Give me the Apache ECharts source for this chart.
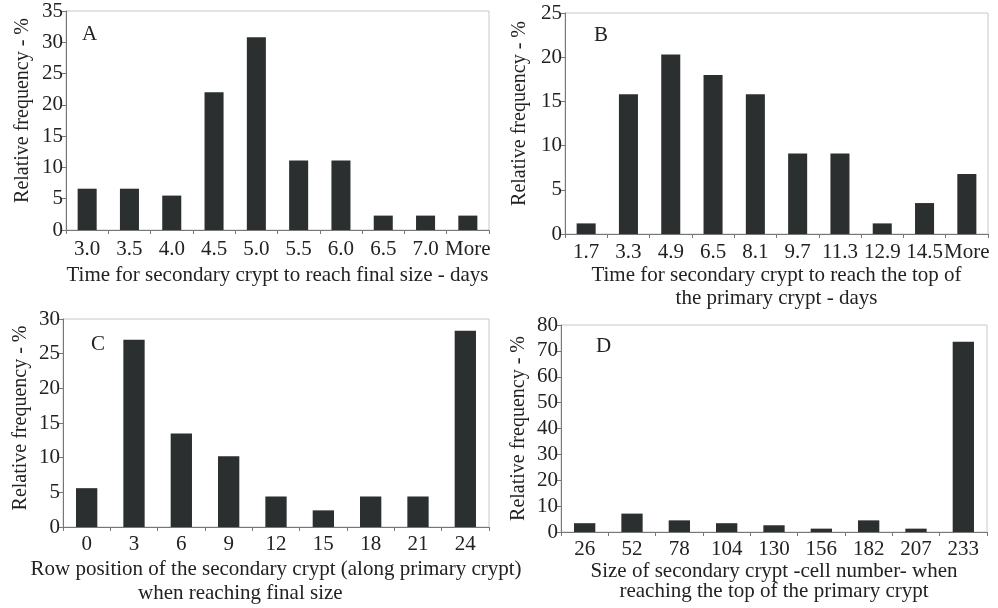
<!DOCTYPE html>
<html>
<head>
<meta charset="utf-8">
<script src="https://cdn.jsdelivr.net/npm/echarts@6/dist/echarts.min.js"></script>
<style>
html,body{margin:0;padding:0;background:#fff;}
#chart{width:998px;height:608px;}
</style>
</head>
<body>
<div id="chart"></div>
<script>
// Panel A
const catsA = ['3.0','3.5','4.0','4.5','5.0','5.5','6.0','6.5','7.0','More'];
const valsA = [6.6, 6.6, 5.5, 22.0, 30.8, 11.1, 11.1, 2.3, 2.3, 2.3];
// Panel B
const catsB = ['1.7','3.3','4.9','6.5','8.1','9.7','11.3','12.9','14.5','More'];
const valsB = [1.2, 15.8, 20.3, 18.0, 15.8, 9.1, 9.1, 1.2, 3.5, 6.8];
// Panel C
const catsC = ['0','3','6','9','12','15','18','21','24'];
const valsC = [5.6, 27.0, 13.5, 10.2, 4.4, 2.4, 4.4, 4.4, 28.3];
// Panel D
const catsD = ['26','52','78','104','130','156','182','207','233'];
const valsD = [3.4, 7.1, 4.5, 3.4, 2.6, 1.3, 4.5, 1.3, 73.5];

const yTitle = 'Relative frequency - %';
const xTitleA = 'Time for secondary crypt to reach final size - days';
const xTitleB = 'Time for secondary crypt to reach the top of\nthe primary crypt - days';
const xTitleC1 = 'Row position of the secondary crypt (along primary crypt)';
const xTitleC2 = 'when reaching final size';
const xTitleD = 'Size of secondary crypt -cell number- when\nreaching the top of the primary crypt';
const panelLabels = ['A','B','C','D'];

const FONT = 'Liberation Serif';
const TXT = '#222';
const BAR = '#2b2f30';
const AX = '#777';

const grids = [
  {left:66, right:509, top:11, bottom:378},
  {left:565, right:10, top:13, bottom:374},
  {left:63, right:509, top:319, bottom:81},
  {left:561, right:11, top:325, bottom:76}
].map(g => Object.assign({show:true, borderColor:'#c8c8c8', borderWidth:1, backgroundColor:'transparent'}, g));

function xAxis(i, cats, name, gap, lh, lm){
  return {
    type:'category', gridIndex:i, data:cats, boundaryGap:true,
    name:name, nameLocation:'middle', nameGap:gap,
    nameTextStyle:{fontFamily:FONT, fontSize:21, color:TXT, lineHeight:lh},
    axisLine:{lineStyle:{color:AX, width:1}},
    axisTick:{show:true, length:4, lineStyle:{color:AX}},
    axisLabel:{fontFamily:FONT, fontSize:21, color:TXT, margin:lm, interval:0}
  };
}
function yAxis(i, max, interval, gap, shiftUp){
  return {
    type:'value', gridIndex:i, min:0, max:max, interval:interval,
    name:yTitle, nameLocation:'middle', nameGap:gap, nameRotate:90,
    nameTextStyle:{fontFamily:FONT, fontSize:20, color:TXT, padding:[0,0,0,shiftUp*2]},
    axisLine:{show:true, lineStyle:{color:AX, width:1}},
    axisTick:{show:true, length:4, lineStyle:{color:AX}},
    splitLine:{show:false},
    axisLabel:{fontFamily:FONT, fontSize:21, color:TXT, margin:3}
  };
}
function bar(i, vals){
  return {type:'bar', xAxisIndex:i, yAxisIndex:i, data:vals, barWidth:'45%',
    itemStyle:{color:BAR}, silent:true, animation:false};
}

const option = {
  animation:false,
  grid:grids,
  xAxis:[
    xAxis(0, catsA, xTitleA, 33, 24, 9),
    xAxis(1, catsB, xTitleB, 30, 23, 8),
    xAxis(2, catsC, xTitleC1, 30, 24, 7),
    xAxis(3, catsD, xTitleD, 26, 20, 7)
  ],
  yAxis:[
    yAxis(0, 35, 5, 33, 10),
    yAxis(1, 25, 5, 35, 10),
    yAxis(2, 30, 5, 32, 5),
    yAxis(3, 80, 10, 32, 0)
  ],
  series:[bar(0, valsA), bar(1, valsB), bar(2, valsC), bar(3, valsD)],
  graphic:[
    {type:'text', left:82, top:24, style:{text:panelLabels[0], font:'21px "Liberation Serif"', fill:'#222'}},
    {type:'text', left:594, top:25, style:{text:panelLabels[1], font:'21px "Liberation Serif"', fill:'#222'}},
    {type:'text', left:91, top:334, style:{text:panelLabels[2], font:'21px "Liberation Serif"', fill:'#222'}},
    {type:'text', left:596, top:336, style:{text:panelLabels[3], font:'21px "Liberation Serif"', fill:'#222'}},
    {type:'text', left:138, top:583, style:{text:xTitleC2, font:'21px "Liberation Serif"', fill:TXT}}
  ]
};

const chart = echarts.init(document.getElementById('chart'), null, {renderer:'canvas'});
chart.setOption(option);
</script>
</body>
</html>
